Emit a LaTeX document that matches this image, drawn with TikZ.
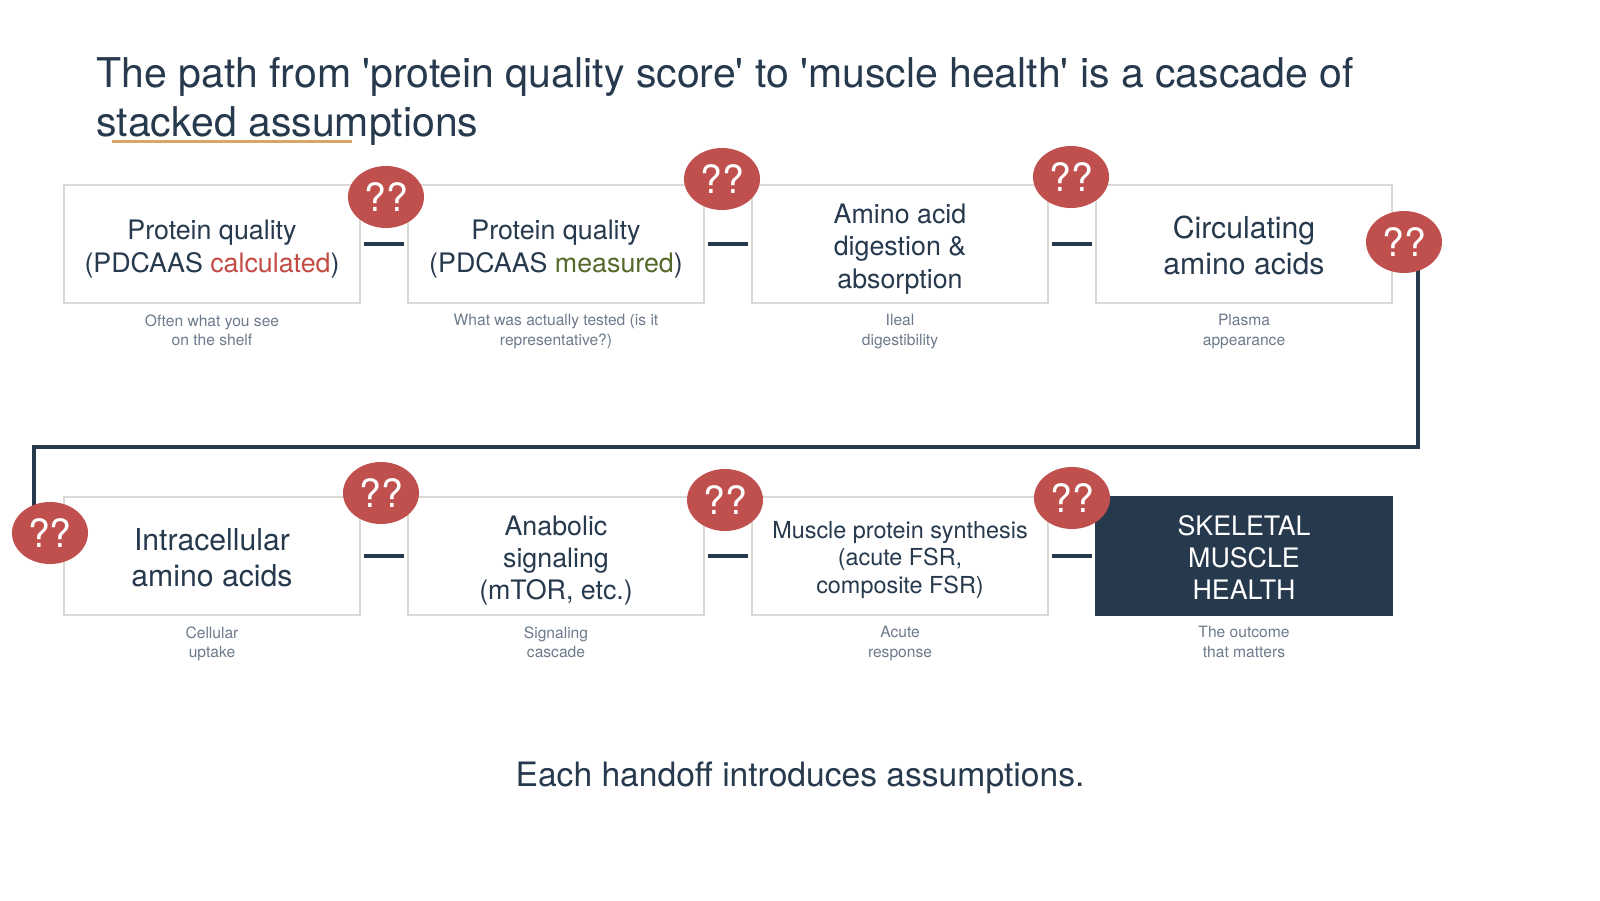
\documentclass[tikz,border=0pt]{standalone}
\usepackage{fontspec}
\setmainfont{TeX Gyre Heros}
\usetikzlibrary{shapes.geometric,calc}
\definecolor{navy}{HTML}{26394D}
\definecolor{qred}{HTML}{C0504D}
\definecolor{calcred}{HTML}{C44A44}
\definecolor{measgreen}{HTML}{55692A}
\definecolor{subgray}{HTML}{6C7A8C}
\definecolor{boxline}{HTML}{DAD9D3}
\definecolor{tan}{HTML}{D9A765}
\newcommand{\sq}{\textquotesingle}
\begin{document}
\begin{tikzpicture}[x=0.5pt,y=-0.5pt,
  stepbox/.style={draw=boxline, line width=1pt, fill=white, minimum width=148pt, minimum height=59pt, inner sep=0pt},
  darkbox/.style={stepbox, draw=navy, fill=navy},
  boxtxt/.style={align=center, inner sep=0pt, text=navy, font=\fontsize{13.4}{16.1}\selectfont},
  bigtxt/.style={font=\fontsize{15.1}{18}\selectfont},
  smalltxt/.style={font=\fontsize{11.7}{13.75}\selectfont},
  subtxt/.style={anchor=north, align=center, text=subgray, inner sep=0pt, font=\fontsize{7.8}{9.7}\selectfont},
  handoff/.style={draw=navy, line width=2.4pt},
  loopline/.style={draw=navy, line width=2.2pt},
  qq/.style={ellipse, fill=qred, minimum width=38pt, minimum height=31pt, inner sep=0pt, text=white, font=\fontsize{19.5}{19.5}\selectfont}
]
\useasboundingbox (0,0) rectangle (1600,900);

% title
\node[anchor=base west, inner sep=0pt, text=navy, font=\fontsize{20.5}{24.5}\selectfont] (t1) at (96,87) {The path from \sq protein quality score\sq{} to \sq muscle health\sq{} is a cascade of};
\node[anchor=base west, inner sep=0pt, text=navy, font=\fontsize{20.5}{24.5}\selectfont] (t2) at (96,136) {stacked assumptions};
\draw[tan, line width=1.5pt] (112,141) -- (352,141);

% boxes
\node[stepbox] (b1) at (212,244) {};
\node[stepbox] (b2) at (556,244) {};
\node[stepbox] (b3) at (900,244) {};
\node[stepbox] (b4) at (1244,244) {};
\node[stepbox] (b5) at (212,556) {};
\node[stepbox] (b6) at (556,556) {};
\node[stepbox] (b7) at (900,556) {};
\node[darkbox] (b8) at (1244,556) {};

% box texts
\node[boxtxt] (b1t) at ([yshift=-2.5pt]b1.center) {Protein quality\\(PDCAAS \textcolor{calcred}{calculated})};
\node[boxtxt] (b2t) at ([yshift=-2.5pt]b2.center) {Protein quality\\(PDCAAS \textcolor{measgreen}{measured})};
\node[boxtxt] (b3t) at ([yshift=-2.5pt]b3.center) {Amino acid\\digestion \&\\absorption};
\node[boxtxt, bigtxt] (b4t) at ([yshift=-0.5pt]b4.center) {Circulating\\amino acids};
\node[boxtxt, bigtxt] (b5t) at ([yshift=-1pt]b5.center) {Intracellular\\amino acids};
\node[boxtxt] (b6t) at ([yshift=-2.4pt]b6.center) {Anabolic\\signaling\\(mTOR, etc.)};
\node[boxtxt, smalltxt] (b7t) at ([yshift=-1.8pt]b7.center) {Muscle protein synthesis\\(acute FSR,\\composite FSR)};
\node[boxtxt, text=white] (b8t) at ([yshift=-0.6pt]b8.center) {SKELETAL\\MUSCLE\\HEALTH};

% sub labels
\node[subtxt] (s1) at (212,314) {Often what you see\\on the shelf};
\node[subtxt] (s2) at (556,314) {What was actually tested (is it\\representative?)};
\node[subtxt] (s3) at (900,314) {Ileal\\digestibility};
\node[subtxt] (s4) at (1244,314) {Plasma\\appearance};
\node[subtxt] (s5) at (212,626) {Cellular\\uptake};
\node[subtxt] (s6) at (556,626) {Signaling\\cascade};
\node[subtxt] (s7) at (900,626) {Acute\\response};
\node[subtxt] (s8) at (1244,626) {The outcome\\that matters};

% handoffs
\draw[handoff] ([xshift=1.5pt]b1.east) -- ([xshift=-1.5pt]b2.west);
\draw[handoff] ([xshift=1.5pt]b2.east) -- ([xshift=-1.5pt]b3.west);
\draw[handoff] ([xshift=1.5pt]b3.east) -- ([xshift=-1.5pt]b4.west);
\draw[handoff] ([xshift=1.5pt]b5.east) -- ([xshift=-1.5pt]b6.west);
\draw[handoff] ([xshift=1.5pt]b6.east) -- ([xshift=-1.5pt]b7.west);
\draw[handoff] ([xshift=1.5pt]b7.east) -- ([xshift=-1.5pt]b8.west);

% loop connector
\coordinate (turnR) at (1418,447);
\coordinate (turnL) at (34,447);
\coordinate (q4pos) at (1404,242);
\coordinate (q5pos) at (50,533);
\draw[loopline] (q4pos -| turnR) -- (turnR) -- (turnL) -- (q5pos -| turnL);

% question marks
\node[qq] (q1) at (386,197) {??};
\node[qq] (q2) at (722,179) {??};
\node[qq] (q3) at (1071,177) {??};
\node[qq] (q4) at (q4pos) {??};
\node[qq] (q5) at (q5pos) {??};
\node[qq] (q6) at (381,493) {??};
\node[qq] (q7) at (725,500) {??};
\node[qq] (q8) at (1072,498) {??};

% footer
\node[anchor=base, inner sep=0pt, text=navy, font=\fontsize{16.8}{20}\selectfont] (foot) at (800,786) {Each handoff introduces assumptions.};
\end{tikzpicture}
\end{document}
